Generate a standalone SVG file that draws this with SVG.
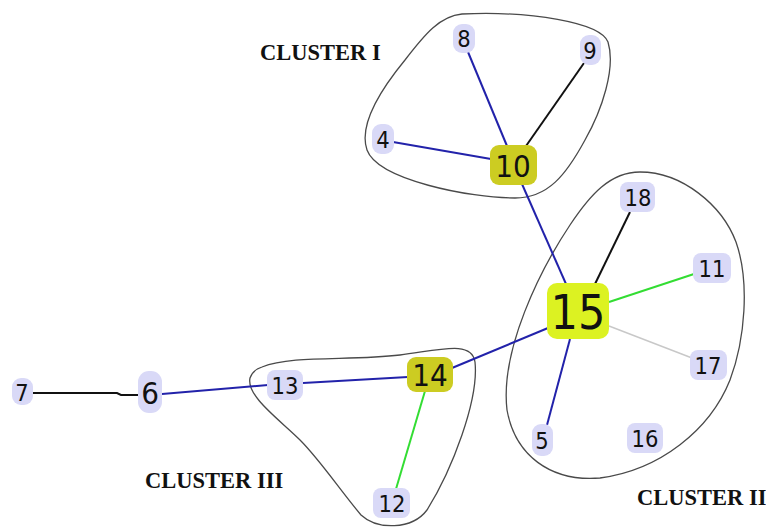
<svg xmlns="http://www.w3.org/2000/svg" width="766" height="527" viewBox="0 0 766 527">
  <style>
    .hull { fill: none; stroke: #4a4a4a; stroke-width: 1.3; }
    .title { font-family: "Liberation Serif", "Times New Roman", serif; font-weight: bold; font-size: 22.5px; fill: #111; }
    .badge { fill: #d9d9f7; }
    .hub { fill: #cccc22; }
    .core { fill: #dcf222; }
    .num { font-family: "DejaVu Sans Condensed", "DejaVu Sans", sans-serif; fill: #111; text-anchor: middle; }
    .s { font-size: 23.5px; }
    .m { font-size: 31px; }
    .l { font-size: 48px; }
    .e { fill: none; stroke-width: 2; }
    .blue { stroke: #2222aa; }
    .black { stroke: #111; }
    .green { stroke: #33dd33; }
    .grey { stroke: #c8c8c8; stroke-width: 1.5; }
  </style>
  <rect width="766" height="527" fill="#fff"/>

  <!-- cluster hulls -->
  <g id="hulls">
    <path class="hull" d="M 462,14 C 530,11 600,22 608,42 C 616,68 602,110 585,140 C 566,175 548,198 515,198 C 470,198 378,180 367,150 C 358,124 382,88 405,60 C 425,34 440,16 462,14 Z"/>
    <path class="hull" d="M 640,172 C 682,172 722,205 736,242 C 750,282 745,340 730,380 C 710,430 660,470 600,478 C 550,482 515,455 507,410 C 500,350 540,270 570,225 C 590,195 610,172 640,172 Z"/>
    <path class="hull" d="M 262,367 C 292,355 350,361 400,355 C 440,350 472,340 475,362 C 479,400 452,470 427,510 C 412,530 377,530 361,515 C 340,490 320,460 300,440 C 280,420 246,396 250,378 C 252,372 256,369 262,367 Z"/>
  </g>

  <!-- cluster titles -->
  <g id="titles">
    <text class="title" x="260" y="60">CLUSTER I</text>
    <text class="title" x="637" y="505">CLUSTER II</text>
    <text class="title" x="145" y="488">CLUSTER III</text>
  </g>

  <!-- connectors -->
  <g id="edges">
    <line class="e blue" x1="393" y1="142" x2="491" y2="159"/>
    <line class="e blue" x1="468" y1="52" x2="507" y2="146"/>
    <line class="e black" x1="584" y1="63" x2="526" y2="146"/>
    <line class="e blue" x1="522" y1="184" x2="566" y2="284"/>
    <line class="e black" x1="630" y1="212" x2="595" y2="284"/>
    <line class="e green" x1="609" y1="302" x2="694" y2="274"/>
    <line class="grey" x1="609" y1="326" x2="692" y2="358"/>
    <line class="e blue" x1="570" y1="339" x2="547" y2="425"/>
    <line class="e blue" x1="452" y1="368" x2="548" y2="328"/>
    <line class="e blue" x1="303" y1="383" x2="408" y2="377"/>
    <line class="e green" x1="425" y1="391" x2="396" y2="489"/>
    <line class="e blue" x1="162" y1="394" x2="268" y2="385"/>
    <polyline class="e black" points="33,393 117,393 121,395 138,395"/>
  </g>

  <!-- nodes -->
  <g id="n4"><rect class="badge" x="372" y="124" width="22" height="30" rx="9"/><text class="num s" x="383" y="147.5">4</text></g>
  <g id="n8"><rect class="badge" x="453" y="24" width="22" height="29" rx="9"/><text class="num s" x="464" y="46.5">8</text></g>
  <g id="n9"><rect class="badge" x="580" y="35" width="21" height="30" rx="9"/><text class="num s" x="590" y="58.5">9</text></g>
  <g id="n10"><rect class="hub" x="490" y="145" width="47" height="40" rx="9"/><text class="num m" x="513" y="176.5">10</text></g>
  <g id="n18"><rect class="badge" x="620" y="182" width="35" height="30" rx="8"/><text class="num s" x="638" y="205.5">18</text></g>
  <g id="n11"><rect class="badge" x="693" y="253" width="38" height="30" rx="8"/><text class="num s" x="712" y="276.5">11</text></g>
  <g id="n15"><rect class="core" x="547" y="283" width="62" height="56" rx="10"/><text class="num l" x="578" y="329">15</text></g>
  <g id="n17"><rect class="badge" x="690" y="350" width="37" height="30" rx="8"/><text class="num s" x="708" y="373.5">17</text></g>
  <g id="n5"><rect class="badge" x="532" y="424" width="21" height="32" rx="9"/><text class="num s" x="542" y="448.5">5</text></g>
  <g id="n16"><rect class="badge" x="627" y="423" width="36" height="30" rx="8"/><text class="num s" x="645" y="446.5">16</text></g>
  <g id="n14"><rect class="hub" x="407" y="357" width="46" height="35" rx="9"/><text class="num m" x="430" y="386">14</text></g>
  <g id="n13"><rect class="badge" x="267" y="370" width="36" height="30" rx="8"/><text class="num s" x="285" y="393.5">13</text></g>
  <g id="n12"><rect class="badge" x="373" y="488" width="37" height="30" rx="8"/><text class="num s" x="392" y="511.5">12</text></g>
  <g id="n6"><rect class="badge" x="138" y="371" width="24" height="42" rx="11"/><text class="num m" x="150" y="403.5">6</text></g>
  <g id="n7"><rect class="badge" x="12" y="378" width="21" height="27" rx="9"/><text class="num s" x="22" y="400.5">7</text></g>
</svg>
